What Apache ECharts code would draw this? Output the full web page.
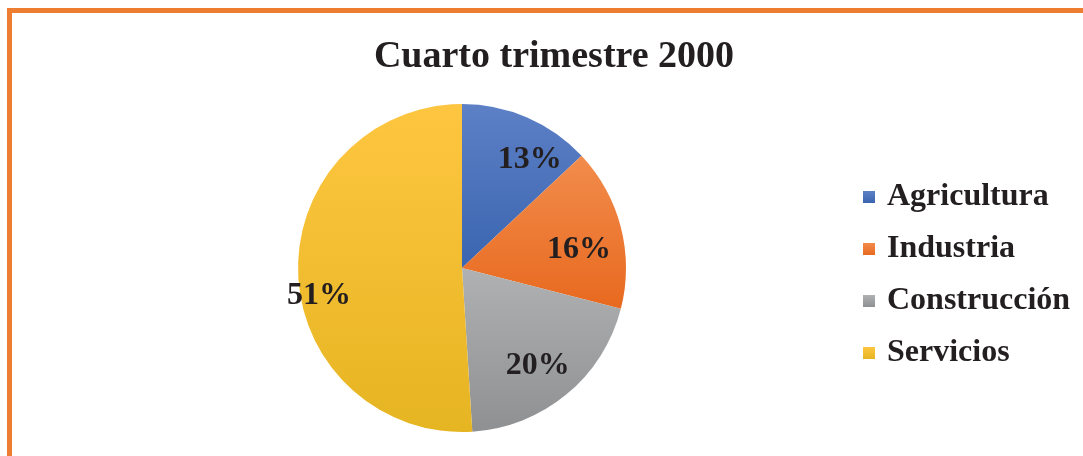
<!DOCTYPE html>
<html>
<head>
<meta charset="utf-8">
<script src="https://cdn.jsdelivr.net/npm/echarts@6/dist/echarts.min.js"></script>
<style>
  html, body { margin: 0; padding: 0; background: #fff; }
  #chart { width: 1083px; height: 456px; }
</style>
</head>
<body>
<div id="chart"></div>
<script>
// sector shares, in percent
const sectors = ['Agricultura', 'Industria', 'Construcción', 'Servicios']
const shares = [13, 16, 20, 51]
// light (top) -> dark (bottom) fill per slice, Excel-like
const topColors = ['#5D80C6', '#F28C4C', '#B0B1B3', '#FEC640']
const bottomColors = ['#3A65B0', '#E8691F', '#8F9092', '#E6B522']
// small nudges so the labels sit where Excel's "best fit" put them
const labelNudge = [[18, 6], [-4, 13], [-4, 1], [-18, 24]]

const chart = echarts.init(document.getElementById('chart'))

const grad = i => new echarts.graphic.LinearGradient(0, 0, 0, 1, [
  { offset: 0, color: topColors[i] },
  { offset: 1, color: bottomColors[i] },
])

const serif = '"Liberation Serif", "Times New Roman", serif'

chart.setOption({
  animation: false,
  title: {
    text: 'Cuarto trimestre 2000',
    left: 554,
    textAlign: 'center',
    top: 38,
    padding: 0,
    textStyle: { fontFamily: serif, fontSize: 38, fontWeight: 'bold', color: '#231f20' },
  },
  legend: {
    orient: 'vertical',
    left: 858,
    top: 176,
    itemWidth: 12,
    itemHeight: 12,
    itemGap: 20,
    icon: 'rect',
    data: sectors,
    textStyle: { fontFamily: serif, fontSize: 32, fontWeight: 'bold', color: '#231f20', lineHeight: 30, padding: [0, 0, 0, 7] },
  },
  graphic: [{
    type: 'rect',
    silent: true,
    shape: { x: 9.5, y: 10.5, width: 1200, height: 600 },
    style: { fill: 'none', stroke: '#ED7D31', lineWidth: 5 },
  }],
  series: [
    {
      type: 'pie',
      center: [462, 268],
      radius: 164,
      startAngle: 90,
      clockwise: true,
      silent: true,
      label: { show: false },
      labelLine: { show: false },
      data: sectors.map((name, i) => ({
        name,
        value: shares[i],
        itemStyle: { color: grad(i) },
      })),
    },
    {
      // transparent ring that only carries the percentage labels
      type: 'pie',
      center: [462, 268],
      radius: [80, 164],
      startAngle: 90,
      clockwise: true,
      silent: true,
      itemStyle: { color: 'rgba(0,0,0,0)' },
      label: {
        show: true,
        position: 'inside',
        formatter: p => p.value + '%',
        fontFamily: serif,
        fontSize: 32,
        fontWeight: 'bold',
        color: '#231f20',
      },
      labelLine: { show: false },
      data: sectors.map((name, i) => ({
        name,
        value: shares[i],
        label: { offset: labelNudge[i] },
      })),
    },
  ],
})
</script>
</body>
</html>
